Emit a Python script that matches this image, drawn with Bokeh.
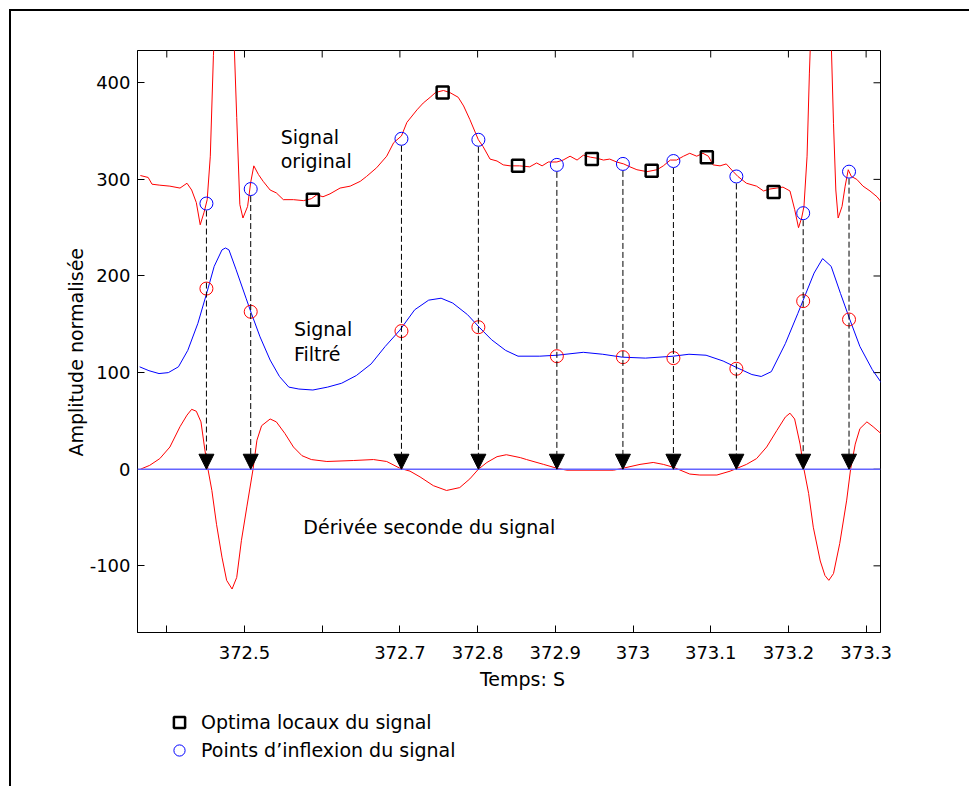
import math
from bokeh.plotting import figure
from bokeh.layouts import column
from bokeh.models import (Range1d, FixedTicker, Title, Legend, LegendItem, Label,
                          Arrow, NormalHead, Span, ColumnDataSource)
from bokeh.embed import file_html
from bokeh.resources import INLINE

# ---------------- data ----------------
orig_t = [372.366, 372.376, 372.381, 372.391, 372.404, 372.417, 372.426, 372.432, 372.438, 372.443,
          372.448, 372.452, 372.456, 372.460, 372.476, 372.4865, 372.490, 372.494, 372.498, 372.504,
          372.508, 372.512, 372.518, 372.524, 372.533, 372.541, 372.550, 372.563, 372.576, 372.586,
          372.593, 372.601, 372.610, 372.623, 372.636, 372.649, 372.657, 372.670, 372.683, 372.692,
          372.702, 372.709, 372.722, 372.730, 372.739, 372.746, 372.756, 372.764, 372.775, 372.782,
          372.790, 372.801, 372.807, 372.816, 372.825, 372.833, 372.842, 372.854, 372.867, 372.876,
          372.883, 372.891, 372.902, 372.910, 372.919, 372.928, 372.936, 372.945, 372.953, 372.962,
          372.970, 372.979, 372.988, 372.996, 373.005, 373.018, 373.031, 373.039, 373.048, 373.056,
          373.065, 373.073, 373.082, 373.090, 373.097, 373.103, 373.112, 373.120, 373.129, 373.135,
          373.146, 373.159, 373.168, 373.176, 373.185, 373.193, 373.202, 373.208, 373.213, 373.217,
          373.220, 373.224, 373.227, 373.243, 373.255, 373.258, 373.261, 373.264, 373.269, 373.273,
          373.277, 373.281, 373.288, 373.296, 373.305, 373.314, 373.319]
orig_v = [304, 302, 295, 294, 293, 291, 296, 289, 276, 253,
          266, 279, 324, 428, 690, 445, 364, 274, 260, 272,
          297, 314, 305, 298, 289, 286, 279, 279, 278, 280,
          284, 282, 285, 291, 293, 298, 303, 312, 324, 338,
          345, 359, 372, 379, 385, 390, 392, 390, 385, 376,
          362, 341, 334, 321, 319, 315, 314, 314, 313, 317,
          314, 318, 318, 320, 324, 320, 325, 323, 322, 320,
          321, 318, 316, 313, 310, 308, 310, 314, 320, 320,
          324, 327, 324, 327, 324, 315, 314, 316, 308, 303,
          296, 293, 288, 290, 291, 292, 288, 269, 250, 260,
          272, 324, 410, 780, 445, 358, 289, 260, 272, 293,
          310, 303, 300, 293, 288, 282, 277]

filt_t = [372.365, 372.377, 372.390, 372.402, 372.415, 372.427, 372.440, 372.452, 372.461, 372.471,
          372.4755, 372.480, 372.489, 372.502, 372.509, 372.520, 372.533, 372.545, 372.557, 372.570,
          372.588, 372.607, 372.625, 372.644, 372.663, 372.681, 372.700, 372.719, 372.737, 372.753,
          372.768, 372.787, 372.802, 372.818, 372.836, 372.852, 372.880, 372.902, 372.936, 372.961,
          372.986, 373.016, 373.052, 373.072, 373.094, 373.116, 373.134, 373.153, 373.165, 373.178,
          373.196, 373.212, 373.219, 373.233, 373.244, 373.255, 373.267, 373.279, 373.292, 373.308,
          373.320]
filt_v = [106, 102, 99, 100, 106, 123, 151, 184, 210, 227,
          229, 227, 207, 177, 161, 137, 113, 96, 85, 83,
          82, 85, 89, 97, 109, 127, 144, 165, 175, 177,
          172, 160, 147, 134, 123, 117, 117, 118, 121, 119,
          116, 115, 117, 119, 118, 112, 105, 98, 96, 101,
          130, 161, 175, 203, 218, 210, 182, 155, 127, 103,
          89]

d2_t = [372.366, 372.378, 372.391, 372.404, 372.417, 372.426, 372.432, 372.438, 372.444, 372.449,
        372.453, 372.458, 372.464, 372.471, 372.477, 372.484, 372.490, 372.496, 372.503, 372.511,
        372.516, 372.522, 372.533, 372.541, 372.552, 372.563, 372.574, 372.586, 372.606, 372.640,
        372.666, 372.683, 372.700, 372.713, 372.726, 372.743, 372.760, 372.777, 372.790, 372.801,
        372.812, 372.825, 372.837, 372.855, 372.863, 372.885, 372.902, 372.915, 372.975, 372.987,
        373.009, 373.026, 373.039, 373.052, 373.073, 373.086, 373.108, 373.125, 373.134, 373.146,
        373.159, 373.172, 373.185, 373.196, 373.202, 373.208, 373.215, 373.220, 373.226, 373.232,
        373.241, 373.247, 373.252, 373.258, 373.266, 373.275, 373.280, 373.286, 373.292, 373.301,
        373.309, 373.319]
d2_v = [0, 4, 11, 23, 44, 56, 62, 60, 49, 20,
        0, -22, -57, -91, -115, -124, -112, -74, -39, 0,
        30, 45, 52, 49, 37, 23, 14, 10, 8, 9,
        10, 8, 1, -2, -8, -17, -22, -19, -10, 0,
        7, 13, 15, 12, 10, 5, 1, -1, -1, 1,
        5, 7, 5, 2, -5, -6, -6, -2, 1, 5,
        11, 23, 40, 54, 58, 52, 26, 0, -25, -60,
        -95, -110, -115, -108, -77, -32, 0, 26, 42, 49,
        44, 37]

infl_t = [372.451, 372.508, 372.702, 372.801, 372.902, 372.987, 373.052, 373.133, 373.219, 373.278]
infl_orig = [275, 290, 342, 341, 315, 316, 319, 303, 265, 308]
infl_filt = [187, 163, 143, 147, 117, 116, 115, 104, 174, 155]
infl_zero = [0, 0, 0, 0, 0, 0, 0, 0, 0, 0]

opt_t = [372.588, 372.755, 372.852, 372.947, 373.024, 373.095, 373.181]
opt_v = [279, 390, 314, 321, 309, 323, 287]

x_ticks = [372.4, 372.5, 372.6, 372.7, 372.8, 372.9, 373.0, 373.1, 373.2, 373.3]
x_tick_labels = ["", "372.5", "", "372.7", "372.8", "372.9", "373", "373.1", "373.2", "373.3"]
y_ticks = [-100, 0, 100, 200, 300, 400]
y_tick_labels = ["-100", "0", "100", "200", "300", "400"]

FONT = "DejaVu Sans"
X0, X1 = 372.3623, 373.3185
Y0, Y1 = -169.0, 433.4
FRAME_W, FRAME_H = 743, 582
TICK_PX = 7

# ---------------- main figure ----------------
p = figure(width=958, height=657, x_range=Range1d(X0, X1), y_range=Range1d(Y0, Y1),
           output_backend="svg", toolbar_location=None,
           min_border_left=126, min_border_right=89, min_border_top=39, min_border_bottom=36)
p.background_fill_color = "white"
p.border_fill_color = "white"
p.grid.visible = False
p.outline_line_color = "black"
p.outline_line_width = 1

for ax in (p.xaxis[0], p.yaxis[0]):
    ax.axis_line_color = "black"
    ax.major_tick_in = TICK_PX
    ax.major_tick_out = 0
    ax.major_tick_line_color = "black"
    ax.minor_tick_line_color = None
    ax.major_label_text_font = FONT
    ax.major_label_text_color = "black"
    ax.major_label_text_font_size = "18px"

p.xaxis.ticker = FixedTicker(ticks=x_ticks)
p.xaxis.major_label_overrides = {t: s for t, s in zip(x_ticks, x_tick_labels)}
p.xaxis.major_label_standoff = 13
p.yaxis.ticker = FixedTicker(ticks=y_ticks)
p.yaxis.major_label_overrides = {t: s for t, s in zip(y_ticks, y_tick_labels)}
p.yaxis.major_label_standoff = 7

# inward ticks on the top and right edges of the box
ux = (X1 - X0) / FRAME_W
uy = (Y1 - Y0) / FRAME_H
p.segment(x0=x_ticks, x1=x_ticks, y0=[Y1] * len(x_ticks), y1=[Y1 - TICK_PX * uy] * len(x_ticks),
          line_color="black", line_width=1)
p.segment(x0=[X1] * len(y_ticks), x1=[X1 - TICK_PX * ux] * len(y_ticks), y0=y_ticks, y1=y_ticks,
          line_color="black", line_width=1)

# curves
p.line(orig_t, orig_v, line_color="#ff0000", line_width=1)
p.line(filt_t, filt_v, line_color="#0000ff", line_width=1)
p.line(d2_t, d2_v, line_color="#ff0000", line_width=1)
p.add_layout(Span(location=0, dimension="width", line_color="#6464ff", line_width=1.5))

# dashed arrows from the inflection points down to the zero crossings
radius_px = 7.0
arrow_src = ColumnDataSource(dict(x=infl_t,
                                  y0=[v - radius_px * uy for v in infl_orig],
                                  y1=infl_zero))
p.add_layout(Arrow(end=NormalHead(size=15, fill_color="black", line_color="black", line_width=1),
                   x_start="x", y_start="y0", x_end="x", y_end="y1", source=arrow_src,
                   line_color="black", line_width=1, line_dash="6 3"))

CIRC = dict(marker="circle", fill_color=None, line_color="#0000ff", line_width=1)
SQ = dict(marker="square", fill_color=None, line_color="black", line_width=2.5)
p.scatter(infl_t, infl_orig, size=13, **CIRC)
p.scatter(infl_t, infl_filt, marker="circle", size=13, fill_color=None,
          line_color="#ff0000", line_width=1)
p.scatter(opt_t, opt_v, size=12, **SQ)


def add_label(fig, x, y, text, units="data", **kw):
    fig.add_layout(Label(x=x, y=y, text=text, x_units=units, y_units=units,
                         text_font=FONT, text_font_size="19px", text_color="black", **kw))


add_label(p, 372.5466, 344.0, "Signal", text_baseline="alphabetic")
add_label(p, 372.5466, 319.5, "original", text_baseline="alphabetic")
add_label(p, 372.5636, 145.0, "Signal", text_baseline="alphabetic")
add_label(p, 372.5636, 119.0, "Filtré", text_baseline="alphabetic")
add_label(p, 372.5757, -59.5, "Dérivée seconde du signal", text_baseline="alphabetic")

p.add_layout(Title(text="Amplitude normalisée", align="left", offset=176, standoff=0,
                   text_font=FONT, text_font_size="19px", text_font_style="normal",
                   text_color="black"), "left")

# ---------------- lower strip: x-axis title and legend ----------------
q = figure(width=958, height=118, x_range=Range1d(0, 1), y_range=Range1d(0, 1),
           output_backend="svg", toolbar_location=None, x_axis_type=None, y_axis_type=None,
           min_border_left=0, min_border_right=0, min_border_top=0, min_border_bottom=0)
q.background_fill_color = "white"
q.border_fill_color = "white"
q.outline_line_color = None
q.grid.visible = False

add_label(q, 385, 108, "Temps: S", units="screen", text_align="center",
          text_baseline="alphabetic")

# legend swatches (their data lie outside this strip's 0..1 ranges, so only the legend shows)
leg_sq = q.scatter(opt_t, opt_v, size=12, **SQ)
leg_ci = q.scatter(infl_t, infl_orig, size=13, **CIRC)
legend = Legend(items=[LegendItem(label="Optima locaux du signal", renderers=[leg_sq]),
                       LegendItem(label="Points d\u2019inflexion du signal", renderers=[leg_ci])],
                location=(26, 22), glyph_width=32, glyph_height=28, label_standoff=6,
                padding=0, margin=0, spacing=0, border_line_color=None,
                background_fill_alpha=0, label_text_font=FONT, label_text_font_size="19px",
                label_text_color="black")
q.add_layout(legend)

page = column(p, q, spacing=0)
page.styles = {"margin-left": "9px", "margin-top": "9px",
               "border-top": "2px solid black", "border-left": "2px solid black"}

open("out.html", "w").write(file_html(page, INLINE))
